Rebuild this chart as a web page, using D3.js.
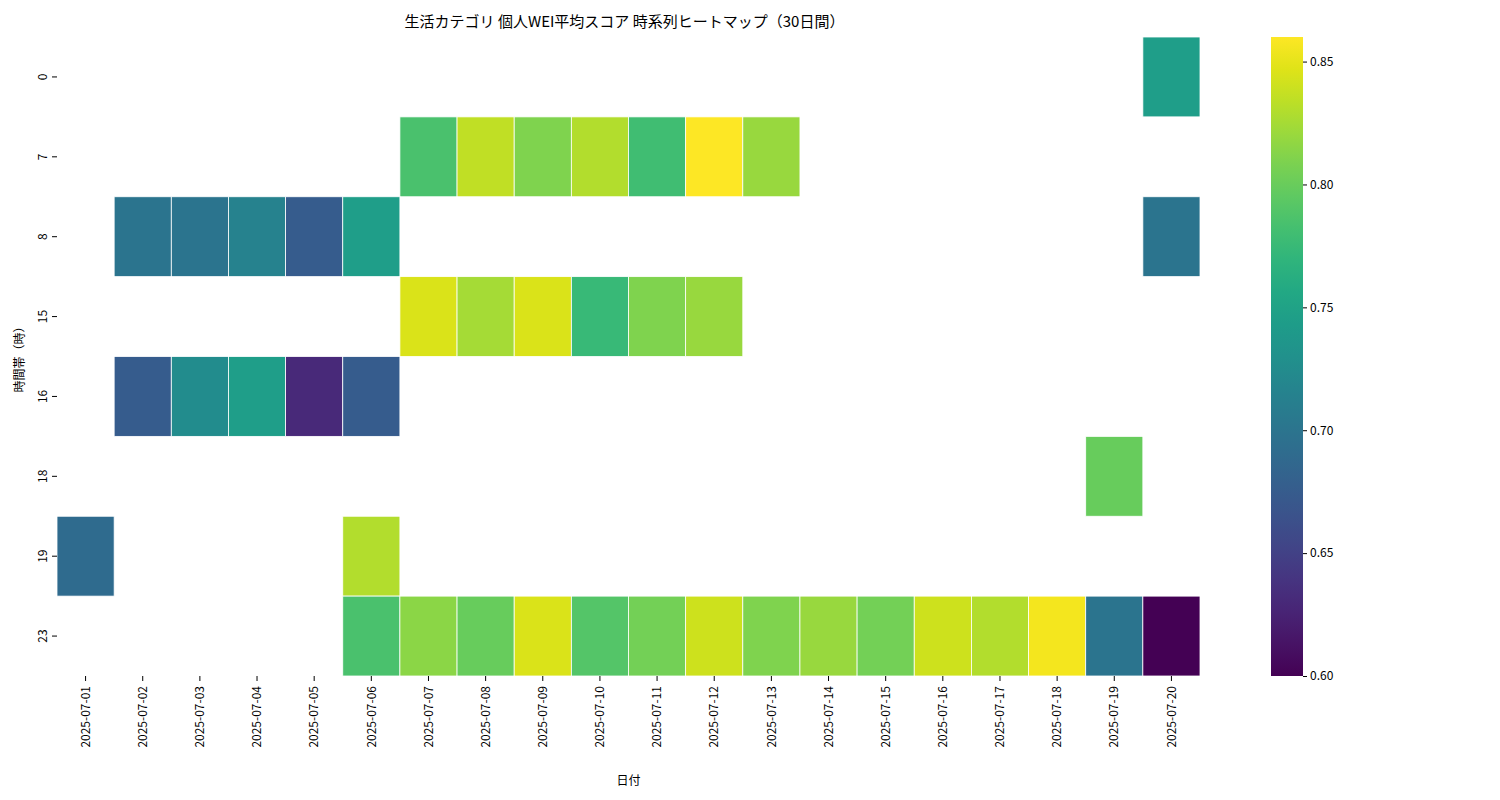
<!DOCTYPE html>
<html><head><meta charset="utf-8">
<script src="https://cdn.jsdelivr.net/npm/d3@7"></script>
<style>body{margin:0;background:#fff}text{font-family:"Noto Sans CJK JP","Noto Sans",sans-serif;fill:#000}</style>
</head><body><svg id="c" width="1500" height="800"></svg>
<script>
const dates = ["2025-07-01","2025-07-02","2025-07-03","2025-07-04","2025-07-05","2025-07-06","2025-07-07","2025-07-08","2025-07-09","2025-07-10",
  "2025-07-11","2025-07-12","2025-07-13","2025-07-14","2025-07-15","2025-07-16","2025-07-17","2025-07-18","2025-07-19","2025-07-20"];
const hours = ["0","7","8","15","16","18","19","23"];
const _ = null;
const h0  = [_,_,_,_,_,_,_,_,_,_,_,_,_,_,_,_,_,_,_,0.745];
const h7  = [_,_,_,_,_,_,0.785,0.835,0.81,0.83,0.78,0.86,0.82,_,_,_,_,_,_,_];
const h8  = [_,0.70,0.70,0.715,0.675,0.745,_,_,_,_,_,_,_,_,_,_,_,_,_,0.70];
const h15 = [_,_,_,_,_,_,0.845,0.825,0.845,0.775,0.81,0.82,_,_,_,_,_,_,_,_];
const h16 = [_,0.675,0.725,0.745,0.63,0.675,_,_,_,_,_,_,_,_,_,_,_,_,_,_];
const h18 = [_,_,_,_,_,_,_,_,_,_,_,_,_,_,_,_,_,_,0.80,_];
const h19 = [0.69,_,_,_,_,0.83,_,_,_,_,_,_,_,_,_,_,_,_,_,_];
const h23 = [_,_,_,_,_,0.785,0.815,0.80,0.845,0.79,0.805,0.84,0.81,0.82,0.805,0.84,0.83,0.855,0.70,0.60];
const rows = [h0,h7,h8,h15,h16,h18,h19,h23];
const cbTicks = [0.60,0.65,0.70,0.75,0.80,0.85];
const vmin = 0.60, vmax = 0.86;

const svg = d3.select("#c");
const L=57,R=1200,T=37,B=676;
const x = d3.scaleBand().domain(dates).range([L,R]);
const y = d3.scaleBand().domain(hours).range([T,B]);
const color = d3.scaleSequential(d3.interpolateViridis).domain([vmin,vmax]);

const cells = [];
rows.forEach((r,i)=>r.forEach((v,j)=>{ if(v!==null) cells.push({h:hours[i],d:dates[j],v}); }));
svg.append("g").selectAll("rect").data(cells).join("rect")
  .attr("x",d=>x(d.d)).attr("y",d=>y(d.h))
  .attr("width",x.bandwidth()).attr("height",y.bandwidth())
  .attr("fill",d=>color(d.v)).attr("stroke","#fff").attr("stroke-width",0.8);

const xa = svg.append("g").attr("transform",`translate(0,${B})`)
  .call(d3.axisBottom(x).tickSizeOuter(0).tickSize(5).tickPadding(4));
xa.select(".domain").remove();
xa.selectAll("text").attr("transform","rotate(-90)").attr("text-anchor","end")
  .attr("x",-10).attr("y",0).attr("dy","0.35em").style("font-size","12px");

const ya = svg.append("g").attr("transform",`translate(${L},0)`)
  .call(d3.axisLeft(y).tickSizeOuter(0).tickSize(5));
ya.select(".domain").remove();
ya.selectAll("text").attr("transform",function(){return `rotate(-90,${-8},0)`}).attr("x",-8).attr("text-anchor","middle").attr("dy","-0.2em").style("font-size","12px");

svg.append("text").attr("x",(L+R)/2).attr("y",785).attr("text-anchor","middle").style("font-size","12px").text("日付");
svg.append("text").attr("transform",`translate(24,${(T+B)/2}) rotate(-90)`).attr("text-anchor","middle").style("font-size","12px").text("時間帯（時）");
svg.append("text").attr("x",(L+R)/2-4).attr("y",27).attr("text-anchor","middle").style("font-size","15px").text("生活カテゴリ 個人WEI平均スコア 時系列ヒートマップ（30日間）");

// colorbar
const cbX=1271, cbW=32;
const cy = d3.scaleLinear().domain([vmin,vmax]).range([B,T]);
const defs = svg.append("defs");
const grad = defs.append("linearGradient").attr("id","g").attr("x1",0).attr("y1",1).attr("x2",0).attr("y2",0);
d3.range(0,1.0001,0.05).forEach(t=>grad.append("stop").attr("offset",t).attr("stop-color",d3.interpolateViridis(t)));
svg.append("rect").attr("x",cbX).attr("y",T).attr("width",cbW).attr("height",B-T).attr("fill","url(#g)");
const ca = svg.append("g").attr("transform",`translate(${cbX+cbW},0)`)
  .call(d3.axisRight(cy).tickValues(cbTicks).tickFormat(d3.format(".2f")).tickSize(4));
ca.select(".domain").remove();
ca.selectAll("text").style("font-size","12px");
</script></body></html>
